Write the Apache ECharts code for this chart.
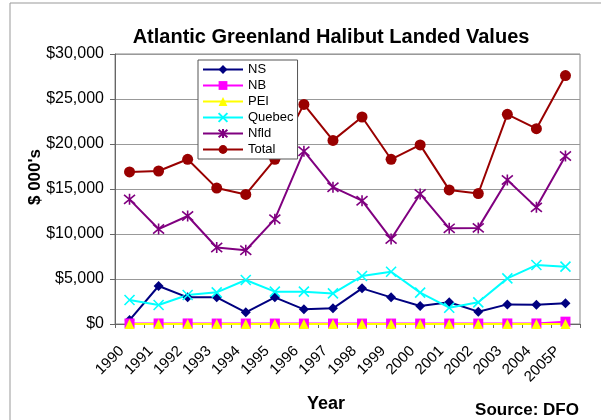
<!DOCTYPE html>
<html>
<head>
<meta charset="utf-8">
<script src="https://cdn.jsdelivr.net/npm/echarts@6/dist/echarts.min.js"></script>
<style>
html,body{margin:0;padding:0;background:#fff;}
#c{width:601px;height:420px;}
</style>
</head>
<body>
<div id="c"></div>
<script>
const years = ['1990','1991','1992','1993','1994','1995','1996','1997','1998','1999','2000','2001','2002','2003','2004','2005P'];
const ns     = [440, 4220, 2960, 2960, 1300, 2960, 1630, 1740, 3960, 2960, 2000, 2410, 1370, 2180, 2150, 2300];
const nb     = [60, 60, 60, 50, 50, 50, 50, 50, 50, 50, 50, 50, 50, 60, 60, 260];
const pei    = [0, 0, 0, 0, 0, 0, 0, 0, 0, 0, 0, 0, 0, 0, 0, 0];
const quebec = [2670, 2110, 3220, 3520, 4890, 3590, 3590, 3400, 5330, 5810, 3480, 1810, 2410, 5070, 6550, 6370];
const nfld   = [13850, 10550, 12000, 8500, 8200, 11650, 19200, 15200, 13700, 9450, 14450, 10630, 10680, 16000, 12960, 18670];
const total  = [16900, 17000, 18300, 15100, 14400, 18300, 24400, 20400, 23000, 18300, 19900, 14900, 14500, 23300, 21700, 27600];

const FONT = '"Liberation Sans", Arial, sans-serif';
const chart = echarts.init(document.getElementById('c'));

const xPath = 'path://M0,0L10,10M10,0L0,10';
const starPath = 'path://M0,0L10,10M10,0L0,10M5,-1L5,11';

function mk(name, data, color, symbol, size, extra) {
  return Object.assign({
    name: name, type: 'line', data: data,
    symbol: symbol, symbolSize: size,
    showAllSymbol: true,
    lineStyle: {color: color, width: 2},
    itemStyle: {color: color},
    animation: false
  }, extra || {});
}

chart.setOption({
  animation: false,
  backgroundColor: '#fff',
  title: {
    text: 'Atlantic Greenland Halibut Landed Values',
    left: 326, top: 22, textAlign: 'center',
    textStyle: {fontFamily: FONT, fontSize: 20, fontWeight: 'bold', color: '#000'}
  },
  grid: {left: 115, right: 21, top: 54, bottom: 96, show: true, borderColor: '#888', borderWidth: 1},
  legend: {
    orient: 'vertical', left: 198, top: 60,
    itemWidth: 40, itemHeight: 11, itemGap: 3,
    padding: [3, 4, 3, 4],
    backgroundColor: '#fff', borderColor: '#555', borderWidth: 1,
    textStyle: {fontFamily: FONT, fontSize: 13, color: '#000'},
    data: ['NS','NB','PEI','Quebec','Nfld','Total']
  },
  xAxis: {
    type: 'category', data: years, boundaryGap: true,
    axisLine: {lineStyle: {color: '#666'}},
    axisTick: {show: true, length: 4, lineStyle: {color: '#666'}},
    axisLabel: {rotate: 45, interval: 0, fontFamily: FONT, fontSize: 15, color: '#000', margin: 17, padding: [0, 11, 0, 0]}
  },
  yAxis: {
    type: 'value', min: 0, max: 30000, interval: 5000,
    axisLine: {show: true, lineStyle: {color: '#666'}},
    axisTick: {show: true, length: 5, lineStyle: {color: '#666'}},
    splitLine: {lineStyle: {color: '#999', width: 1}},
    axisLabel: {fontFamily: FONT, fontSize: 16, color: '#000', margin: 11,
      formatter: v => '$' + v.toLocaleString('en-US')}
  },
  graphic: [
    {type: 'rect', shape: {x: 10, y: 3, width: 620, height: 440}, style: {fill: 'none', stroke: '#999', lineWidth: 1}, silent: true, z: -1},
    {type: 'text', x: 35, y: 177, rotation: Math.PI / 2,
      style: {text: "$ 000's", fontFamily: FONT, fontSize: 17, fontWeight: 'bold', fill: '#000', align: 'center', verticalAlign: 'middle'}},
    {type: 'text', x: 326, y: 404,
      style: {text: 'Year', fontFamily: FONT, fontSize: 18, fontWeight: 'bold', fill: '#000', align: 'center', verticalAlign: 'middle'}},
    {type: 'text', x: 527, y: 410,
      style: {text: 'Source: DFO', fontFamily: FONT, fontSize: 17, fontWeight: 'bold', fill: '#000', align: 'center', verticalAlign: 'middle'}}
  ],
  series: [
    mk('NS', ns, '#000080', 'diamond', 10),
    mk('NB', nb, '#FF00FF', 'rect', 10),
    mk('PEI', pei, '#FFFF00', 'triangle', 10),
    mk('Quebec', quebec, '#00FFFF', xPath, 10, {itemStyle: {color: '#00FFFF', borderColor: '#00FFFF', borderWidth: 1.6}}),
    mk('Nfld', nfld, '#800080', starPath, 11, {itemStyle: {color: '#800080', borderColor: '#800080', borderWidth: 1.6}}),
    mk('Total', total, '#990000', 'circle', 11)
  ]
});
</script>
</body>
</html>
